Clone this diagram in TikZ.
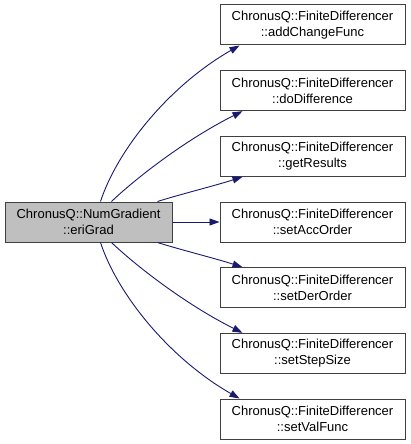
\documentclass[tikz,border=0pt]{standalone}
\usepackage{fontspec}
\setmainfont{Liberation Sans}
\usetikzlibrary{arrows.meta}
\definecolor{edgeblue}{RGB}{25,25,112}
\definecolor{boxborder}{RGB}{64,64,64}
\definecolor{boxgray}{RGB}{191,191,191}
\begin{document}
\begin{tikzpicture}[x=1pt,y=-1pt,
  fn/.style={draw=boxborder,line width=1pt,fill=white,minimum width=185pt,minimum height=40pt,inner sep=0pt,align=center,font=\fontsize{13pt}{16pt}\selectfont},
  mainfn/.style={fn,fill=boxgray,minimum width=167pt},
  edge/.style={draw=edgeblue,line width=0.9pt,-{Triangle[length=10pt,width=7pt]}}]
\useasboundingbox (0,0) rectangle (411,444);
\node[mainfn] (L) at (88.5,222) {ChronusQ::NumGradient\\::eriGrad};
\node[fn] (R1) at (312.5,25) {ChronusQ::FiniteDifferencer\\::addChangeFunc};
\node[fn] (R2) at (312.5,90.67) {ChronusQ::FiniteDifferencer\\::doDifference};
\node[fn] (R3) at (312.5,156.33) {ChronusQ::FiniteDifferencer\\::getResults};
\node[fn] (R4) at (312.5,222) {ChronusQ::FiniteDifferencer\\::setAccOrder};
\node[fn] (R5) at (312.5,287.67) {ChronusQ::FiniteDifferencer\\::setDerOrder};
\node[fn] (R6) at (312.5,353.33) {ChronusQ::FiniteDifferencer\\::setStepSize};
\node[fn] (R7) at (312.5,419) {ChronusQ::FiniteDifferencer\\::setValFunc};
\draw[edge] ([xshift=96pt]L.north west) .. controls +(17,-52) and +(-70,40) .. ([xshift=20pt]R1.south west);
\draw[edge] ([xshift=107pt]L.north west) .. controls +(23,-22) and +(-58,29) .. ([xshift=23pt]R2.south west);
\draw[edge] ([xshift=153pt]L.north west) .. controls +(22,-7) and +(-28,9) .. ([xshift=23pt]R3.south west);
\draw[edge] (L.east) -- (R4.west);
\draw[edge] ([xshift=153pt]L.south west) .. controls +(22,7) and +(-28,-9) .. ([xshift=23pt]R5.north west);
\draw[edge] ([xshift=107pt]L.south west) .. controls +(23,22) and +(-58,-29) .. ([xshift=23pt]R6.north west);
\draw[edge] ([xshift=96pt]L.south west) .. controls +(17,52) and +(-70,-40) .. ([xshift=20pt]R7.north west);
\end{tikzpicture}
\end{document}
